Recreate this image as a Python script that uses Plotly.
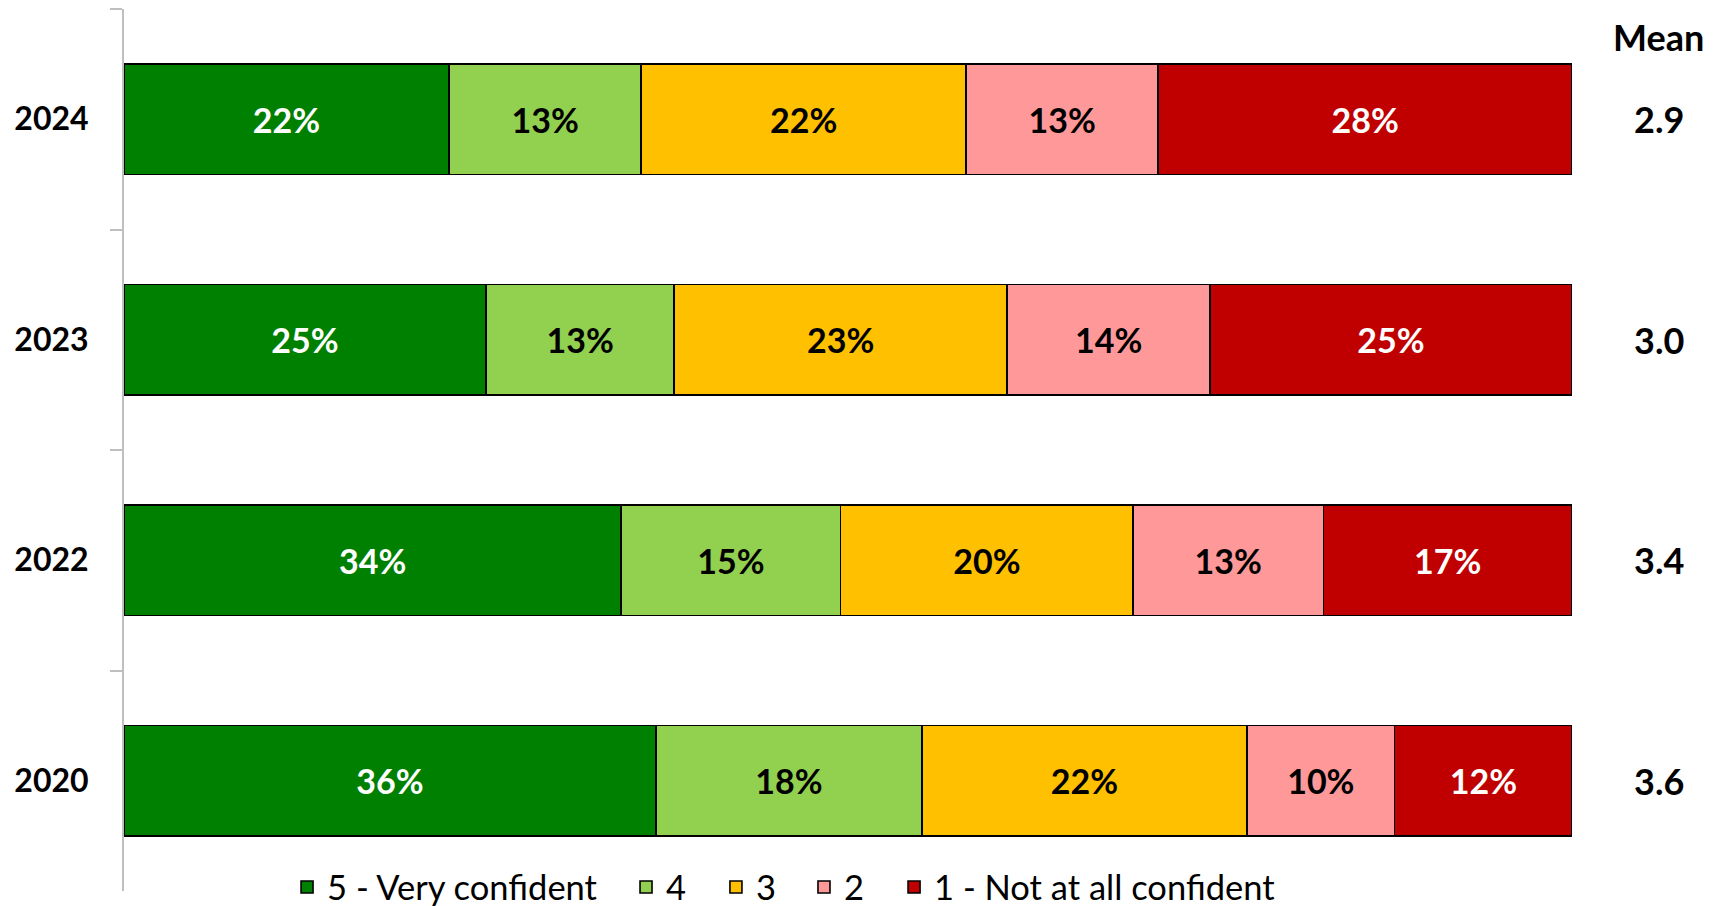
import plotly.graph_objects as go

years = ["2024", "2023", "2022", "2020"]
series_names = ["5 - Very confident", "4", "3", "2", "1 - Not at all confident"]
very_confident = [22, 25, 34, 36]
four = [13, 13, 15, 18]
three = [22, 23, 20, 22]
two = [13, 14, 13, 10]
not_confident = [28, 25, 17, 12]
means = [2.9, 3.0, 3.4, 3.6]

series_values = [very_confident, four, three, two, not_confident]
colors = ["#008000", "#92D050", "#FFC000", "#FF9999", "#C00000"]
text_colors = ["white", "black", "black", "black", "white"]
legend_x = [0.1126, 0.3467, 0.4088, 0.4696, 0.5318]

FONT = "Lato"
W, H = 1707, 898
ML, MR, MT, MB = 116, 143, 1, 15

fig = go.Figure()
legend_ids = ["legend", "legend2", "legend3", "legend4", "legend5"]
for name, vals, col, tcol, lid in zip(series_names, series_values, colors, text_colors, legend_ids):
    fig.add_trace(go.Bar(
        y=years, x=vals, name=name, orientation="h", legend=lid,
        marker=dict(color=col, line=dict(color="black", width=1.6)),
        text=[f"{v}%" for v in vals], textposition="inside",
        insidetextanchor="middle", constraintext="none",
        textfont=dict(family=FONT, size=34, color=tcol, weight="bold"),
        width=0.5, hoverinfo="skip",
    ))

n = len(years)
for i, m in enumerate(means):
    fig.add_annotation(x=1.06, xref="paper", y=1 - (i + 0.5) / n, yref="paper", text=f"{m:.1f}",
                       showarrow=False, xanchor="center", yanchor="middle",
                       font=dict(family=FONT, size=36, color="black", weight="bold"))
fig.add_annotation(x=1.06, xref="paper", y=0.968, yref="paper", text="Mean",
                   showarrow=False, xanchor="center", yanchor="middle",
                   font=dict(family=FONT, size=36, color="black", weight="bold"))

legend_layouts = {}
for lid, lx in zip(legend_ids, legend_x):
    legend_layouts[lid] = dict(orientation="h", x=lx, xanchor="left", y=0.0045, yanchor="middle",
                               font=dict(family=FONT, size=34.5, color="black"),
                               bgcolor="rgba(0,0,0,0)", borderwidth=0)

fig.update_layout(
    width=W, height=H,
    barmode="stack", barnorm="percent",
    paper_bgcolor="white", plot_bgcolor="white",
    margin=dict(l=ML, r=MR, t=MT, b=MB, autoexpand=False),
    showlegend=True,
    xaxis=dict(range=[0, 100], showgrid=False, zeroline=False, showticklabels=False,
               showline=False, ticks=""),
    yaxis=dict(autorange="reversed", type="category", categoryorder="array", categoryarray=years,
               showline=True, linecolor="#BFBFBF",
               linewidth=2, ticks="outside", ticklen=12, tickwidth=2, tickcolor="#BFBFBF",
               tickson="boundaries", showgrid=False, zeroline=False, layer="below traces",
               tickfont=dict(family=FONT, size=32, color="black", weight="bold"),
               ticklabelstandoff=27),
    font=dict(family=FONT),
    **legend_layouts,
)

fig.write_html("out.html")
